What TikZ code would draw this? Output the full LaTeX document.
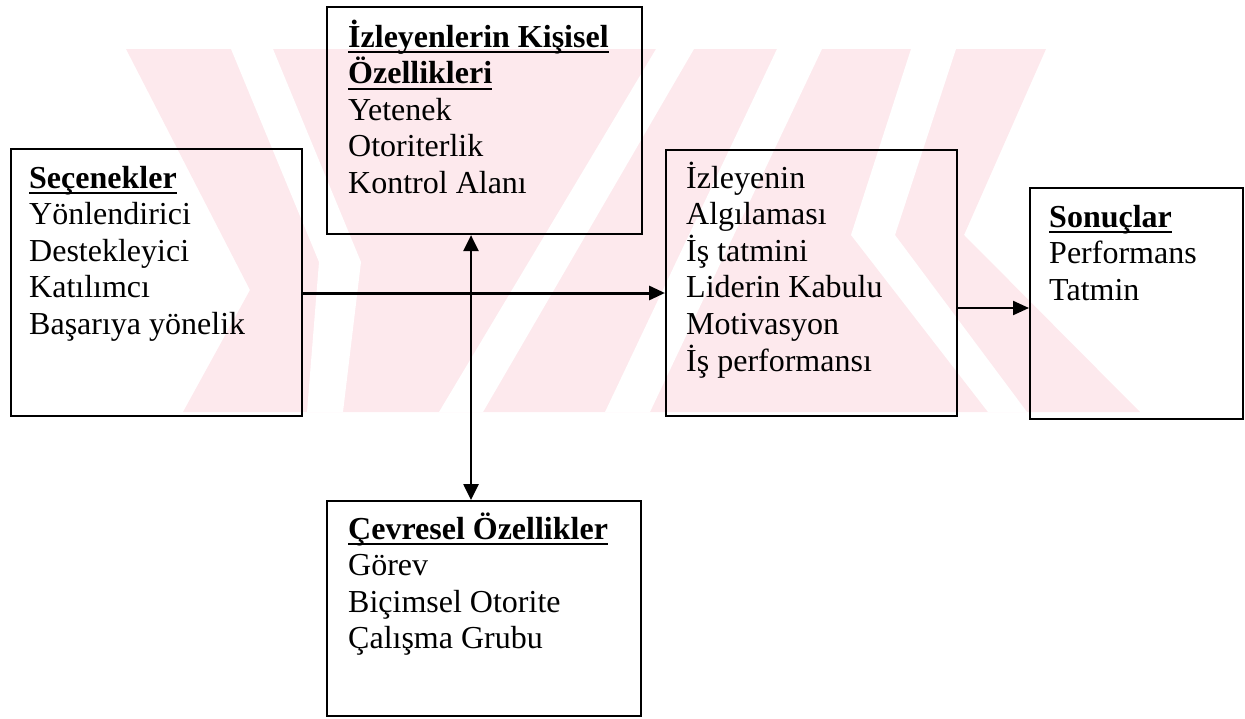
\documentclass[tikz,border=0pt]{standalone}
\usepackage{fontspec}
\setmainfont{Liberation Serif}
\usetikzlibrary{arrows.meta,calc}
\definecolor{wm}{RGB}{253,233,237}
\newsavebox\hulbox
\newcommand\hul[1]{\leavevmode\sbox\hulbox{#1}\rlap{\rule[-6pt]{\wd\hulbox}{2pt}}\usebox\hulbox}
\tikzset{
  box/.style={draw, line width=2.1pt, anchor=north west, inner sep=0pt},
  txt/.style={anchor=base west, inner sep=0pt, font=\fontsize{32}{36.6}\selectfont},
  arr/.style={-{Triangle[length=16pt,width=14pt]}},
  darr/.style={{Triangle[length=16pt,width=15pt]}-{Triangle[length=16pt,width=15pt]}},
}
\begin{document}
\begin{tikzpicture}[x=1pt,y=-1pt]
\useasboundingbox (0,0) rectangle (1245,718);
% watermark
\begin{scope}
\clip (0,49) rectangle (1245,412);
\fill[wm] (126,49) -- (1046,49) -- (964,235) -- (1140,412) -- (183,412) -- (250,290) -- cycle;
\fill[white] (231,49) -- (273,49) -- (361,262) -- (343,412) -- (307,412) -- (319,262) -- cycle;
\fill[white] (439,412) -- (483,412) -- (694,49) -- (656,49) -- cycle;
\fill[white] (605,412) -- (650,412) -- (822,49) -- (777,49) -- cycle;
\fill[white] (911,49) -- (956,49) -- (895,235) -- (1027,412) -- (988,412) -- (851,235) -- cycle;
\end{scope}
% boxes
\node[box, minimum width=291pt, minimum height=267pt] (sec) at (10,148) {};
\node[box, minimum width=315pt, minimum height=227pt] (kis) at (326,6) {};
\node[box, minimum width=291pt, minimum height=266pt] (alg) at (665,149) {};
\node[box, minimum width=213pt, minimum height=231pt] (son) at (1029,187) {};
\node[box, minimum width=314pt, minimum height=215pt] (cev) at (326,500) {};
% texts
\node[txt] (tsec) at (29,188) {\parbox[t]{270pt}{\raggedright\hul{\textbf{Seçenekler}}\\Yönlendirici\\Destekleyici\\Katılımcı\\Başarıya yönelik}};
\node[txt] (tkis) at (348,47) {\parbox[t]{290pt}{\raggedright\hul{\textbf{İzleyenlerin Kişisel}}\\\hul{\textbf{Özellikleri}}\\Yetenek\\Otoriterlik\\Kontrol Alanı}};
\node[txt] (talg) at (686,188) {\parbox[t]{270pt}{\raggedright İzleyenin\\Algılaması\\İş tatmini\\Liderin Kabulu\\Motivasyon\\İş performansı}};
\node[txt] (tson) at (1049,227) {\parbox[t]{190pt}{\raggedright\hul{\textbf{Sonuçlar}}\\Performans\\Tatmin}};
\node[txt] (tcev) at (348,539) {\parbox[t]{290pt}{\raggedright\hul{\textbf{Çevresel Özellikler}}\\Görev\\Biçimsel Otorite\\Çalışma Grubu}};
% connectors
\coordinate (hy) at (0,293);
\coordinate (vx) at (471,0);
\coordinate (ry) at (0,308);
\draw[arr, line width=3pt] (sec.east |- hy) -- (alg.west |- hy);
\draw[darr, line width=2.6pt] (kis.south -| vx) -- (cev.north -| vx);
\draw[arr, line width=2.2pt] (alg.east |- ry) -- (son.west |- ry);
\end{tikzpicture}
\end{document}
